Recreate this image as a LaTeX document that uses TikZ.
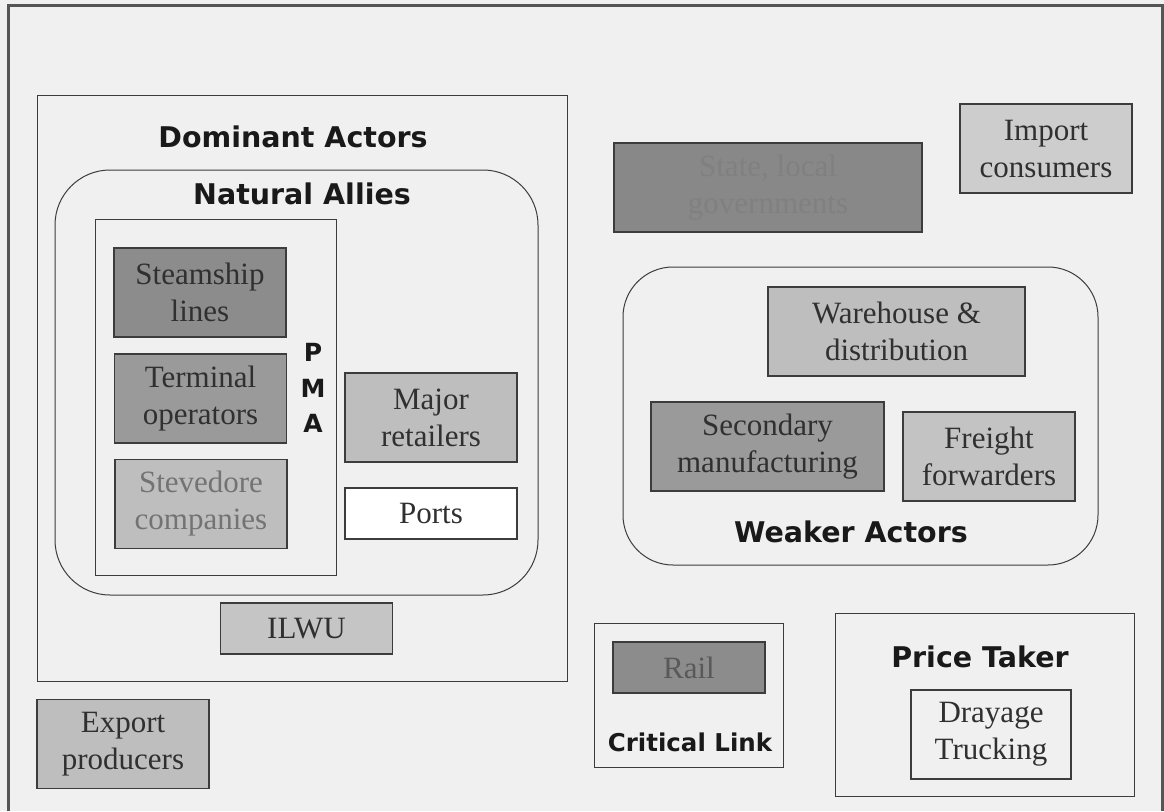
\documentclass[tikz,border=0pt]{standalone}
\usepackage{fontspec}
\setmainfont{Liberation Serif}
\newfontfamily\headfont{DejaVu Sans}
\definecolor{bg}{HTML}{F0F0F0}
\definecolor{frame}{HTML}{555555}
\definecolor{edge}{HTML}{3C3C3C}
\definecolor{ink}{HTML}{303030}
\definecolor{dark}{HTML}{8C8C8C}
\definecolor{mid}{HTML}{9A9A9A}
\definecolor{light}{HTML}{BEBEBE}
\definecolor{pale}{HTML}{CDCDCD}
\tikzset{
  actor/.style={draw=edge, line width=1.2pt, text=ink, align=center, inner sep=0pt,
    font=\fontsize{31}{37}\selectfont, minimum width=172pt, minimum height=89pt},
  flat/.style={actor, minimum height=51pt},
  group/.style={draw=edge, line width=1pt, inner sep=0pt},
  heading/.style={text=black!90, inner sep=0pt, font=\headfont\bfseries\fontsize{28.5}{32}\selectfont}
}
\begin{document}
\begin{tikzpicture}[x=1pt, y=-1pt]
% canvas
\fill[bg] (0,0) rectangle (1164,811);
\useasboundingbox (0,0) rectangle (1164,811);
\draw[frame, line width=3pt] (8,811) -- (8,5) -- (1162,5) -- (1162,811);

% dominant actors
\node[group, minimum width=530pt, minimum height=586pt] (dominant) at (302,388) {};
\node[heading] (domlabel) at (293,137) {Dominant Actors};
\node[group, rounded corners=55pt, minimum width=483pt, minimum height=425pt] (allies) at (296.5,382.5) {};
\node[heading] (allieslabel) at (302,194) {Natural Allies};
\node[group, minimum width=241pt, minimum height=356pt] (pma) at (215.5,397) {};
\node[heading, align=center, font=\headfont\bfseries\fontsize{25}{35.5}\selectfont] (pmalabel) at (313,388) {P\\M\\A};

\node[actor, fill=dark] (steam) at (200,292.5) {Steamship\\lines};
\node[actor, fill=mid] (terminal) at (200.5,398.5) {Terminal\\operators};
\node[actor, fill=light, text=black!55] (stevedore) at (201,504) {Stevedore\\companies};
\node[actor, fill=light] (retail) at (431,417.5) {Major\\retailers};
\node[flat, fill=white] (ports) at (431,513.5) {Ports};
\node[flat, fill=light!90!white] (ilwu) at (306.5,628.5) {ILWU};

\node[actor, fill=light] (export) at (123,744) {Export\\producers};

% government and consumers
\node[actor, fill=dark!97!black, text=black!50, minimum width=308pt] (gov) at (768,187.5) {State, local\\governments};
\node[actor, fill=pale] (import) at (1046,148.5) {Import\\consumers};

% weaker actors
\node[group, rounded corners=50pt, minimum width=475pt, minimum height=298pt] (weaker) at (860.5,416) {};
\node[heading] (weakerlabel) at (851,532) {Weaker Actors};
\node[actor, fill=light, minimum width=257pt] (warehouse) at (896.5,331.5) {Warehouse \&\\distribution};
\node[actor, fill=mid, minimum width=233pt] (secondary) at (767.5,446.5) {Secondary\\manufacturing};
\node[actor, fill=pale!95!black] (freight) at (989,456.5) {Freight\\forwarders};

% critical link
\node[group, minimum width=189pt, minimum height=144pt] (critical) at (688.5,695) {};
\node[flat, fill=dark, text=black!65, minimum width=152pt] (rail) at (689,667.5) {Rail};
\node[heading, font=\headfont\bfseries\fontsize{24.5}{28}\selectfont] (criticallabel) at (690,742) {Critical Link};

% price taker
\node[group, minimum width=299pt, minimum height=183pt] (price) at (984.5,704.5) {};
\node[heading] (pricelabel) at (980,657) {Price Taker};
\node[actor, fill=bg, minimum width=160pt] (drayage) at (991,734.5) {Drayage\\Trucking};
\end{tikzpicture}
\end{document}
